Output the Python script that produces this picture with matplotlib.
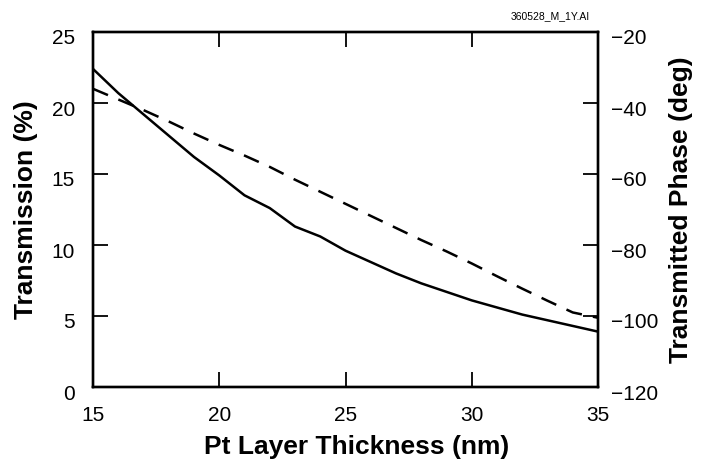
import matplotlib
matplotlib.use("Agg")
import matplotlib.pyplot as plt
from matplotlib.transforms import ScaledTranslation

thickness = [15, 16, 17, 18, 19, 20, 21, 22, 23, 24, 25, 26, 27, 28, 29, 30, 31, 32, 33, 34, 35]
transmission = [22.4, 20.7, 19.2, 17.7, 16.2, 14.9, 13.5, 12.6, 11.3, 10.6, 9.6, 8.8, 8.0, 7.3, 6.7, 6.1, 5.6, 5.1, 4.7, 4.3, 3.9]
phase = [-36.0, -39.0, -42.0, -45.2, -48.6, -51.8, -54.8, -58.0, -61.6, -65.0, -68.4, -71.8, -75.2, -78.6, -81.8, -85.2, -88.8, -92.3, -95.7, -99.0, -100.5]

x_ticks = [15, 20, 25, 30, 35]
y_left_ticks = [0, 5, 10, 15, 20, 25]
y_right_ticks = [-120, -100, -80, -60, -40, -20]

plt.rcParams['font.family'] = ['Liberation Sans', 'DejaVu Sans']

fig = plt.figure(figsize=(7.02, 4.66), dpi=100)
ax = fig.add_axes([93/702, 1 - 387/466, (598 - 93)/702, (387 - 32)/466])
ax2 = ax.twinx()

ax.plot(thickness, transmission, color='black', lw=1.8, solid_joinstyle='round')
ax2.plot(thickness, phase, color='black', lw=1.8, dashes=(6.5, 4.5))

ax.set_xlim(15, 35)
ax.set_ylim(0, 25)
ax2.set_ylim(-120, -20)
ax.set_xticks(x_ticks)
ax.set_yticks(y_left_ticks)
ax2.set_yticks(y_right_ticks)

for a in (ax, ax2):
    for s in a.spines.values():
        s.set_linewidth(1.7)

ax.tick_params(axis='x', direction='in', length=11, width=1.3, top=True, labelsize=15, pad=14)
ax.tick_params(axis='y', direction='in', length=11, width=1.3, labelsize=15, pad=13)
ax2.tick_params(axis='y', direction='in', length=11, width=1.3, labelsize=15, pad=9)

shift = ScaledTranslation(0, -0.05, fig.dpi_scale_trans)
for lab in ax.get_yticklabels():
    lab.set_transform(lab.get_transform() + shift)
for lab in ax2.get_yticklabels():
    lab.set_transform(lab.get_transform() + shift)

ax.set_xlabel('Pt Layer Thickness (nm)', fontsize=19, fontweight='bold')
ax.xaxis.set_label_coords(0.523, -0.135)
ax.set_ylabel('Transmission (%)', fontsize=19, fontweight='bold', labelpad=10)
ax2.set_ylabel('Transmitted Phase (deg)', fontsize=19, fontweight='bold', labelpad=8)

fig.text(590/702, 1 - 16/466, '360528_M_1Y.AI', fontsize=7.5, ha='right', va='center')

fig.savefig('out.png', dpi=100)
